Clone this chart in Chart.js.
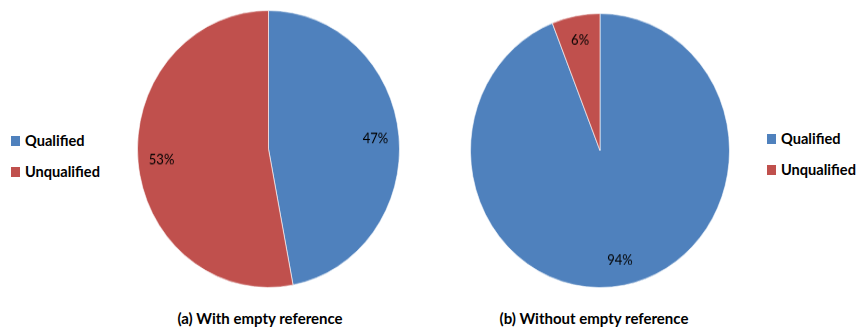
<!DOCTYPE html>
<html>
<head>
<meta charset="utf-8">
<script src="https://cdn.jsdelivr.net/npm/chart.js@4/dist/chart.umd.min.js"></script>
<style>
  html, body { margin: 0; padding: 0; background: #fff; }
  body { width: 859px; height: 329px; position: relative; overflow: hidden; font-family: "Lato", "Open Sans", sans-serif; color: #000; }
  .pie { position: absolute; transform-origin: 0 0; }
  .legend-item { position: absolute; height: 20px; display: flex; align-items: center; font-size: 14.6px; font-weight: 700; white-space: nowrap; }
  .legend-item .sw { width: 9px; height: 10px; margin-right: 5px; }
  .caption { position: absolute; width: 320px; text-align: center; font-size: 15px; font-weight: 700; line-height: 18px; }
</style>
</head>
<body>
<div id="pieA" class="pie"><canvas id="chartA"></canvas></div>
<div id="pieB" class="pie"><canvas id="chartB"></canvas></div>
<script>
const labels = ["Qualified", "Unqualified"];
const withEmptyRef = [47, 53];
const withoutEmptyRef = [94, 6];
const captions = ["(a) With empty reference", "(b) Without empty reference"];
const colors = ["#4F81BD", "#C0504D"];

(() => {
  Chart.defaults.font.family = "Lato";

  // pies in the picture are slightly taller than wide, so squash a round one
  const layouts = [
    { el: "pieA", canvas: "chartA", data: withEmptyRef, left: 137, top: 10, w: 263, sy: 1.057,
      legend: { x: 11, rows: [130.5, 161.5] }, caption: { cx: 260, y: 309 } },
    { el: "pieB", canvas: "chartB", data: withoutEmptyRef, left: 470, top: 13, w: 260, sy: 1.058,
      legend: { x: 767, rows: [128.5, 159.5] }, caption: { cx: 594, y: 309 } }
  ];

  const pctLabels = {
    id: "pctLabels",
    afterDatasetsDraw(chart) {
      const { ctx } = chart;
      const ds = chart.data.datasets[0];
      const total = ds.data.reduce((s, v) => s + v, 0);
      chart.getDatasetMeta(0).data.forEach((arc, i) => {
        const p = arc.getProps(["x", "y", "startAngle", "endAngle", "outerRadius"], true);
        const mid = (p.startAngle + p.endAngle) / 2;
        const r = p.outerRadius * 0.82;
        ctx.save();
        ctx.font = "13px Lato";
        ctx.fillStyle = "#000";
        ctx.textAlign = "center";
        ctx.textBaseline = "middle";
        ctx.fillText(Math.round(ds.data[i] / total * 100) + "%", p.x + Math.cos(mid) * r, p.y + Math.sin(mid) * r);
        ctx.restore();
      });
    }
  };

  function makePie(l) {
    const box = document.getElementById(l.el);
    box.style.left = l.left + "px";
    box.style.top = l.top + "px";
    box.style.width = l.w + "px";
    box.style.height = l.w + "px";
    box.style.transform = `scaleY(${l.sy})`;

    new Chart(document.getElementById(l.canvas), {
      type: "pie",
      data: {
        labels: labels,
        datasets: [{ data: l.data, backgroundColor: colors, borderColor: "rgba(255,255,255,0.6)", borderWidth: 1 }]
      },
      options: {
        animation: false,
        responsive: true,
        maintainAspectRatio: false,
        layout: { padding: 0 },
        plugins: { legend: { display: false }, tooltip: { enabled: false } }
      },
      plugins: [pctLabels]
    });

    labels.forEach((name, i) => {
      const item = document.createElement("div");
      item.className = "legend-item";
      item.style.left = l.legend.x + "px";
      item.style.top = l.legend.rows[i] + "px";
      item.innerHTML = `<span class="sw" style="background:${colors[i]}"></span><span>${name}</span>`;
      document.body.appendChild(item);
    });
  }

  layouts.forEach((l, i) => {
    makePie(l);
    const cap = document.createElement("div");
    cap.className = "caption";
    cap.style.left = (l.caption.cx - 160) + "px";
    cap.style.top = l.caption.y + "px";
    cap.textContent = captions[i];
    document.body.appendChild(cap);
  });
})();
</script>
</body>
</html>
